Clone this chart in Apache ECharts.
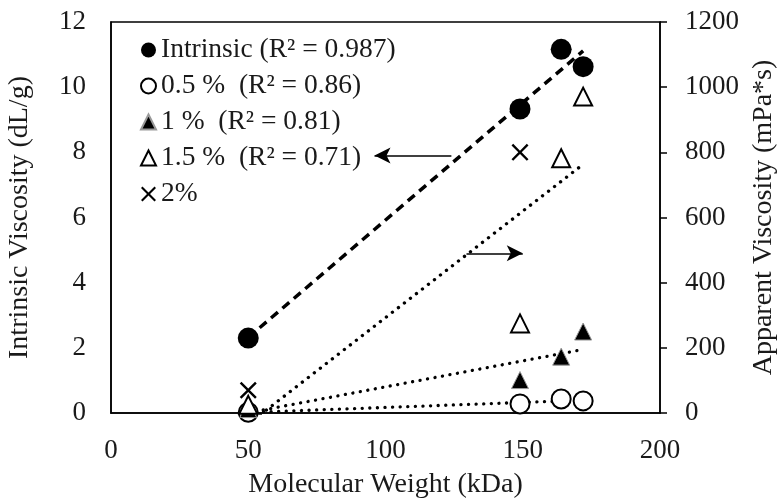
<!DOCTYPE html>
<html>
<head>
<meta charset="utf-8">
<script src="https://cdn.jsdelivr.net/npm/echarts@6/dist/echarts.min.js"></script>
<style>
	html,body{margin:0;padding:0;background:#fff;}
	#chart{width:778px;height:501px;}
</style>
</head>
<body>
<div id="chart"></div>
<script>
// molecular weight (kDa) of the samples
var mwData = [50, 149, 164, 172];
var mw2pct = [50, 149];
// intrinsic viscosity, dL/g (left axis)
var intrinsicData = [2.3, 9.33, 11.16, 10.63];
// apparent viscosity, mPa*s (right axis)
var visc05Data = [2, 28, 43, 37];
var visc1Data = [12, 101, 173, 250];
var visc15Data = [25, 275, 782, 971];
var visc2Data = [70, 800];
// legend names
var seriesNames = ['Intrinsic (R² = 0.987)', '0.5 %  (R² = 0.86)', '1 %  (R² = 0.81)', '1.5 %  (R² = 0.71)', '2%'];
// axis ticks
var xTicks = [0, 200, 50];
var leftTicks = [0, 12, 2];
var rightTicks = [0, 1200, 200];
// arrows, tail then head (x in kDa, y on left axis)
var arrowToLeft = [[124, 7.9], [96, 7.9]];
var arrowToRight = [[129.5, 4.9], [150, 4.9]];

var fontName = '"Liberation Serif", "DejaVu Serif", serif';
var crossIcon = 'path://M0,1 L1,0 L5,4 L9,0 L10,1 L6,5 L10,9 L9,10 L5,6 L1,10 L0,9 L4,5 Z';

function pairs(xs, ys){
	var out = [];
	for(var i = 0; i < xs.length; i++){
		out.push([xs[i], ys[i]]);
	}
	return out;
}
// least squares trendline between the smallest and largest x
function trend(xs, ys){
	var n = xs.length, mx = 0, my = 0, sxx = 0, sxy = 0;
	for(var i = 0; i < n; i++){ mx += xs[i]; my += ys[i]; }
	mx = mx / n; my = my / n;
	for(var j = 0; j < n; j++){
		sxx += (xs[j]-mx)*(xs[j]-mx);
		sxy += (xs[j]-mx)*(ys[j]-my);
	}
	var b = sxy / sxx, a = my - b*mx;
	var x0 = Math.min.apply(null, xs), x1 = Math.max.apply(null, xs);
	return [[x0, a + b*x0], [x1, a + b*x1]];
}
function trendSeries(xs, ys, axis, dashed){
	return {
		type: 'line',
		yAxisIndex: axis,
		data: trend(xs, ys),
		showSymbol: false,
		silent: true,
		z: 2,
		lineStyle: dashed ? {color:'#000', width:3.5, type:[9,6]} : {color:'#000', width:3.3, type:[0.1,7.5], cap:'round'}
	};
}
function arrow(pts){
	return [{coord: pts[0]}, {coord: pts[1]}];
}
function plainNum(v){
	return String(v);
}

var myChart = echarts.init(document.getElementById('chart'));
var axisLabelStyle = {color:'#1a1a1a', fontFamily:fontName, fontSize:27, formatter:plainNum};
var axisNameStyle = {color:'#1a1a1a', fontFamily:fontName, fontSize:28};

option = {
	animation: false,
	backgroundColor: '#fff',
	grid: {
		left: 111, right: 118, top: 22, bottom: 88,
		outerBoundsMode: 'none', containLabel: false,
		show: true, borderColor: '#000', borderWidth: 1.5
	},
	legend: {
		data: [
			{name: seriesNames[0], icon: 'circle'},
			{name: seriesNames[1], icon: 'emptyCircle'},
			{name: seriesNames[2], icon: 'triangle'},
			{name: seriesNames[3], icon: 'emptyTriangle'},
			{name: seriesNames[4], icon: crossIcon}
		],
		orient: 'vertical',
		left: 135, top: 30,
		itemWidth: 15, itemHeight: 15,
		itemGap: 6,
		selectedMode: false,
		textStyle: {color:'#1a1a1a', fontFamily:fontName, fontSize:27.5, lineHeight:30}
	},
	xAxis: {
		type: 'value',
		min: xTicks[0], max: xTicks[1], interval: xTicks[2],
		name: 'Molecular Weight (kDa)',
		nameLocation: 'middle', nameGap: 58,
		nameTextStyle: axisNameStyle,
		axisLine: {lineStyle:{color:'#000', width:1.5}},
		axisTick: {show:false},
		splitLine: {show:false},
		axisLabel: Object.assign({margin:24}, axisLabelStyle)
	},
	yAxis: [{
		type: 'value',
		min: leftTicks[0], max: leftTicks[1], interval: leftTicks[2],
		name: 'Intrinsic Viscosity (dL/g)',
		nameLocation: 'middle', nameGap: 77,
		nameTextStyle: axisNameStyle,
		axisLine: {show:true, lineStyle:{color:'#000', width:1.5}},
		axisTick: {show:false},
		splitLine: {show:false},
		axisLabel: Object.assign({margin:25}, axisLabelStyle)
	},{
		type: 'value',
		position: 'right',
		min: rightTicks[0], max: rightTicks[1], interval: rightTicks[2],
		name: 'Apparent Viscosity (mPa*s)',
		nameLocation: 'middle', nameGap: 86, nameRotate: 90,
		nameTextStyle: axisNameStyle,
		axisLine: {show:true, lineStyle:{color:'#000', width:1.5}},
		axisTick: {show:true, length:7, lineStyle:{color:'#000', width:1.5}},
		splitLine: {show:false},
		axisLabel: Object.assign({margin:25}, axisLabelStyle)
	}],
	series: [
		{
			name: seriesNames[0], type: 'scatter', yAxisIndex: 0, z: 5,
			symbol: 'circle', symbolSize: 21,
			itemStyle: {color:'#000', opacity:1},
			data: pairs(mwData, intrinsicData)
		},
		{
			name: seriesNames[1], type: 'scatter', yAxisIndex: 1, z: 5,
			symbol: 'emptyCircle', symbolSize: 19,
			itemStyle: {color:'#000', borderWidth:1.8, opacity:1},
			data: pairs(mwData, visc05Data)
		},
		{
			name: seriesNames[2], type: 'scatter', yAxisIndex: 1, z: 5,
			symbol: 'triangle', symbolSize: 17,
			itemStyle: {color:'#000', borderColor:'#999', borderWidth:1, opacity:1},
			data: pairs(mwData, visc1Data)
		},
		{
			name: seriesNames[3], type: 'scatter', yAxisIndex: 1, z: 5,
			symbol: 'emptyTriangle', symbolSize: 18,
			itemStyle: {color:'#000', borderWidth:1.8, opacity:1},
			data: pairs(mwData, visc15Data)
		},
		{
			name: seriesNames[4], type: 'scatter', yAxisIndex: 1, z: 6,
			symbol: crossIcon, symbolSize: 17,
			itemStyle: {color:'#000', opacity:1},
			data: pairs(mw2pct, visc2Data)
		},
		trendSeries(mwData, visc05Data, 1, false),
		trendSeries(mwData, visc1Data, 1, false),
		trendSeries(mwData, visc15Data, 1, false),
		(function(){
			var s = trendSeries(mwData, intrinsicData, 0, true);
			s.markLine = {
				silent: true,
				animation: false,
				symbol: ['none', 'arrow'],
				symbolSize: [12, 16],
				label: {show:false},
				lineStyle: {color:'#000', width:1.5, type:'solid'},
				data: [arrow(arrowToLeft), arrow(arrowToRight)]
			};
			return s;
		})()
	]
};
myChart.setOption(option);
</script>
</body>
</html>
